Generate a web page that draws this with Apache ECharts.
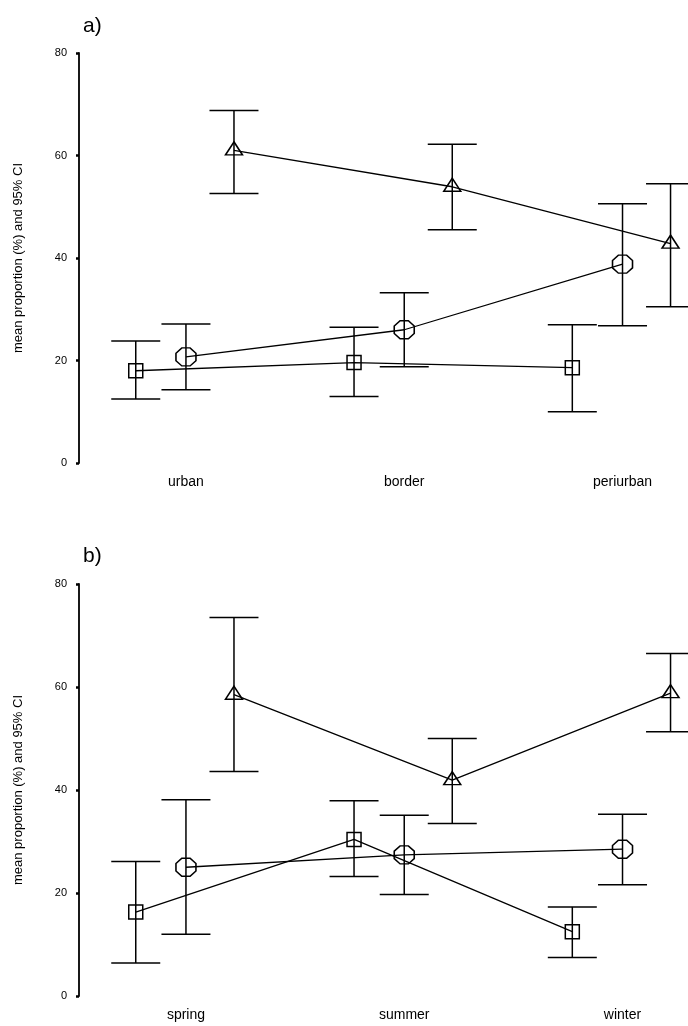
<!DOCTYPE html>
<html>
<head>
<meta charset="utf-8">
<title>mean proportion and 95% CI</title>
<script src="https://cdn.jsdelivr.net/npm/echarts@6/dist/echarts.min.js"></script>
<style>
  html, body { margin: 0; padding: 0; background: #fff; }
  #chart { width: 688px; height: 1026px; }
</style>
</head>
<body>
<div id="chart"></div>
<script>
// Category names and axis ticks
const habitatLabels = ['urban', 'border', 'periurban'];
const seasonLabels = ['spring', 'summer', 'winter'];
const yTicks = [0, 20, 40, 60, 80];

// a) habitat: means with lower / upper 95% CI bounds
const habitatSquareMean = [18.0, 19.6, 18.6];
const habitatSquareLow  = [12.5, 13.0, 10.0];
const habitatSquareHigh = [23.8, 26.5, 27.0];

const habitatCircleMean = [20.7, 26.0, 38.8];
const habitatCircleLow  = [14.3, 18.8, 26.8];
const habitatCircleHigh = [27.1, 33.2, 50.6];

const habitatTriangleMean = [61.0, 53.9, 42.8];
const habitatTriangleLow  = [52.6, 45.5, 30.5];
const habitatTriangleHigh = [68.8, 62.2, 54.5];

// b) season: means with lower / upper 95% CI bounds
const seasonSquareMean = [16.3, 30.4, 12.5];
const seasonSquareLow  = [6.4, 23.2, 7.5];
const seasonSquareHigh = [26.1, 37.9, 17.3];

const seasonCircleMean = [25.0, 27.4, 28.5];
const seasonCircleLow  = [12.0, 19.7, 21.6];
const seasonCircleHigh = [38.1, 35.1, 35.3];

const seasonTriangleMean = [58.5, 41.9, 58.8];
const seasonTriangleLow  = [43.6, 33.5, 51.3];
const seasonTriangleHigh = [73.5, 50.0, 66.5];

// Layout / style constants
const FONT = '"Liberation Sans", Arial, Helvetica, sans-serif';
const groupOffset = { square: -0.23, circle: 0, triangle: 0.22 };
const CAP_HALF = 24.5;
const STROKE = 1.5;
const octagonPath = 'path://M-0.414,-1L0.414,-1L1,-0.414L1,0.414L0.414,1L-0.414,1L-1,0.414L-1,-0.414Z';
const markers = {
  square:   { symbol: 'rect', size: [14, 14], offset: [0, 0] },
  circle:   { symbol: octagonPath, size: [20, 18], offset: [0, 0] },
  triangle: { symbol: 'triangle', size: [17, 13], offset: [0, -2] }
};

function points(kind, means) {
  return means.map((v, i) => [i + 1 + groupOffset[kind], v]);
}
function bars(kind, low, high) {
  return low.map((v, i) => [i + 1 + groupOffset[kind], v, high[i]]);
}

function lineSeries(axis, kind, means) {
  const m = markers[kind];
  return {
    type: 'line',
    xAxisIndex: axis, yAxisIndex: axis,
    data: points(kind, means),
    symbol: m.symbol, symbolSize: m.size, symbolOffset: m.offset,
    showAllSymbol: true,
    lineStyle: { color: '#000', width: 1.3 },
    itemStyle: { color: 'rgba(0,0,0,0)', borderColor: '#000', borderWidth: STROKE },
    emphasis: { disabled: true },
    silent: true, z: 3
  };
}

function errorSeries(axis, kind, low, high) {
  return {
    type: 'custom',
    xAxisIndex: axis, yAxisIndex: axis,
    data: bars(kind, low, high),
    encode: { x: 0, y: [1, 2] },
    silent: true, z: 2,
    renderItem: function (params, api) {
      const x = api.value(0);
      const lo = api.coord([x, api.value(1)]);
      const hi = api.coord([x, api.value(2)]);
      const style = { stroke: '#000', lineWidth: STROKE };
      return {
        type: 'group',
        children: [
          { type: 'line', shape: { x1: lo[0], y1: lo[1], x2: hi[0], y2: hi[1] }, style: style },
          { type: 'line', shape: { x1: hi[0] - CAP_HALF, y1: hi[1], x2: hi[0] + CAP_HALF, y2: hi[1] }, style: style },
          { type: 'line', shape: { x1: lo[0] - CAP_HALF, y1: lo[1], x2: lo[0] + CAP_HALF, y2: lo[1] }, style: style }
        ]
      };
    }
  };
}

function xAxis(idx, labels) {
  return {
    type: 'value', gridIndex: idx,
    min: 0.51, max: 3.3,
    axisLine: { show: false }, axisTick: { show: false }, splitLine: { show: false },
    axisLabel: {
      customValues: [1, 2, 3],
      formatter: v => labels[Math.round(v) - 1] || '',
      color: '#000', fontFamily: FONT, fontSize: 14, margin: 12
    }
  };
}

function yAxis(idx) {
  return {
    type: 'value', gridIndex: idx,
    min: yTicks[0], max: yTicks[yTicks.length - 1], interval: yTicks[1] - yTicks[0],
    name: 'mean proportion (%) and 95% CI',
    nameLocation: 'middle', nameGap: 54, nameRotate: 90,
    nameTextStyle: { color: '#000', fontFamily: FONT, fontSize: 13 },
    axisLine: { show: true, lineStyle: { color: '#000', width: 1.8 } },
    axisTick: { show: true, length: 3, lineStyle: { color: '#000', width: 2.5 } },
    splitLine: { show: false },
    axisLabel: { color: '#000', fontFamily: FONT, fontSize: 11, margin: 12 }
  };
}

const chart = echarts.init(document.getElementById('chart'), null, { renderer: 'canvas' });
chart.setOption({
  animation: false,
  backgroundColor: '#fff',
  title: [
    { text: 'a)', left: 78, top: 11, textStyle: { fontFamily: FONT, fontSize: 21, fontWeight: 'normal', color: '#000' } },
    { text: 'b)', left: 78, top: 541, textStyle: { fontFamily: FONT, fontSize: 21, fontWeight: 'normal', color: '#000' } }
  ],
  grid: [
    { left: 79, width: 609, top: 53, height: 410 },
    { left: 79, width: 609, top: 584, height: 412 }
  ],
  xAxis: [xAxis(0, habitatLabels), xAxis(1, seasonLabels)],
  yAxis: [yAxis(0), yAxis(1)],
  series: [
    errorSeries(0, 'square', habitatSquareLow, habitatSquareHigh),
    errorSeries(0, 'circle', habitatCircleLow, habitatCircleHigh),
    errorSeries(0, 'triangle', habitatTriangleLow, habitatTriangleHigh),
    lineSeries(0, 'square', habitatSquareMean),
    lineSeries(0, 'circle', habitatCircleMean),
    lineSeries(0, 'triangle', habitatTriangleMean),
    errorSeries(1, 'square', seasonSquareLow, seasonSquareHigh),
    errorSeries(1, 'circle', seasonCircleLow, seasonCircleHigh),
    errorSeries(1, 'triangle', seasonTriangleLow, seasonTriangleHigh),
    lineSeries(1, 'square', seasonSquareMean),
    lineSeries(1, 'circle', seasonCircleMean),
    lineSeries(1, 'triangle', seasonTriangleMean)
  ]
});
</script>
</body>
</html>
